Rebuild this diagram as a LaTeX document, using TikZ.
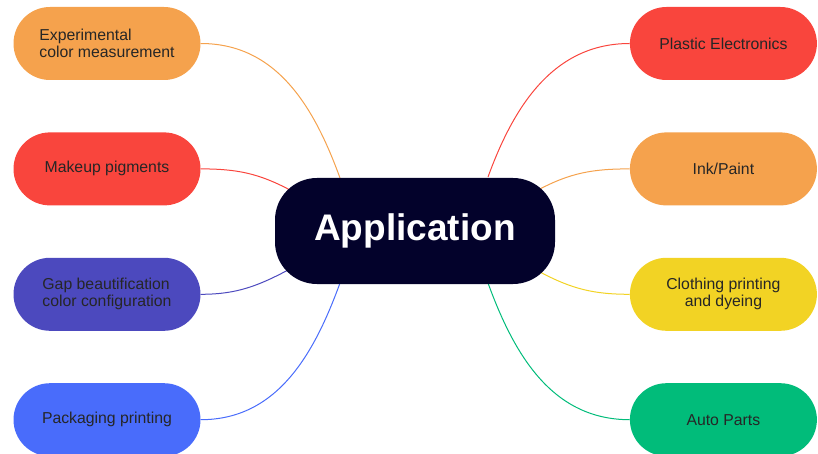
\documentclass[tikz,border=0pt]{standalone}
\usepackage{fontspec}
\setmainfont{Liberation Sans}
\usepackage{xcolor}
\usetikzlibrary{shapes.misc, positioning, calc, backgrounds}
\definecolor{orangeC}{HTML}{F5A24D}
\definecolor{redC}{HTML}{F9453D}
\definecolor{purpleC}{HTML}{4C49BE}
\definecolor{blueC}{HTML}{496CFB}
\definecolor{yellowC}{HTML}{F2D324}
\definecolor{greenC}{HTML}{01BC7A}
\definecolor{navyC}{HTML}{03022B}
\definecolor{textC}{HTML}{262626}

\begin{document}
\begin{tikzpicture}[x=1pt, y=1pt, leaf/.style={rounded rectangle, fill=#1, minimum width=191pt, minimum height=73pt, inner sep=2pt, text=textC, font=\fontsize{15.8}{17}\selectfont}, hub/.style={rectangle, rounded corners=42pt, fill=navyC, text=white, minimum width=280pt, minimum height=106pt, font=\fontsize{37}{40}\selectfont\bfseries}, link/.style={draw=#1, line width=1pt}]
    \useasboundingbox (0,0) rectangle (818,-454);

    %Nodes
    \node[hub](app) at (415,-231){Application};
    \node[leaf=orangeC, align=left](colormeas) at (107,-43.5){Experimental\\color measurement};
    \node[leaf=redC](makeup)[below=52pt of colormeas]{Makeup pigments};
    \node[leaf=purpleC, align=left](gap)[below=52pt of makeup]{Gap beautification\\color configuration};
    \node[leaf=blueC](packaging)[below=52pt of gap]{Packaging printing};
    \node[leaf=redC](plastic)[right=429pt of colormeas]{Plastic Electronics};
    \node[leaf=orangeC](ink)[right=429pt of makeup]{Ink/Paint};
    \node[leaf=yellowC, align=center](clothing)[right=429pt of gap]{Clothing printing\\and dyeing};
    \node[leaf=greenC](auto)[right=429pt of packaging]{Auto Parts};

    %Lines
    \begin{pgfonlayer}{background}
    \draw[link=orangeC] (colormeas.east) to[out=0, in=110] ($(app.center)+(-75,53)$);
    \draw[link=redC] (makeup.east) to[out=0, in=152] ($(app.center)+(-125,41)$);
    \draw[link=purpleC] (gap.east) to[out=0, in=208] ($(app.center)+(-125,-38)$);
    \draw[link=blueC] (packaging.east) to[out=0, in=250] ($(app.center)+(-75,-52)$);
    \draw[link=redC] (plastic.west) to[out=180, in=70] ($(app.center)+(73,54)$);
    \draw[link=orangeC] (ink.west) to[out=180, in=28] ($(app.center)+(123,41)$);
    \draw[link=yellowC] (clothing.west) to[out=180, in=-28] ($(app.center)+(125,-41)$);
    \draw[link=greenC] (auto.west) to[out=180, in=-70] ($(app.center)+(73,-52)$);
    \end{pgfonlayer}

\end{tikzpicture}
\end{document}
